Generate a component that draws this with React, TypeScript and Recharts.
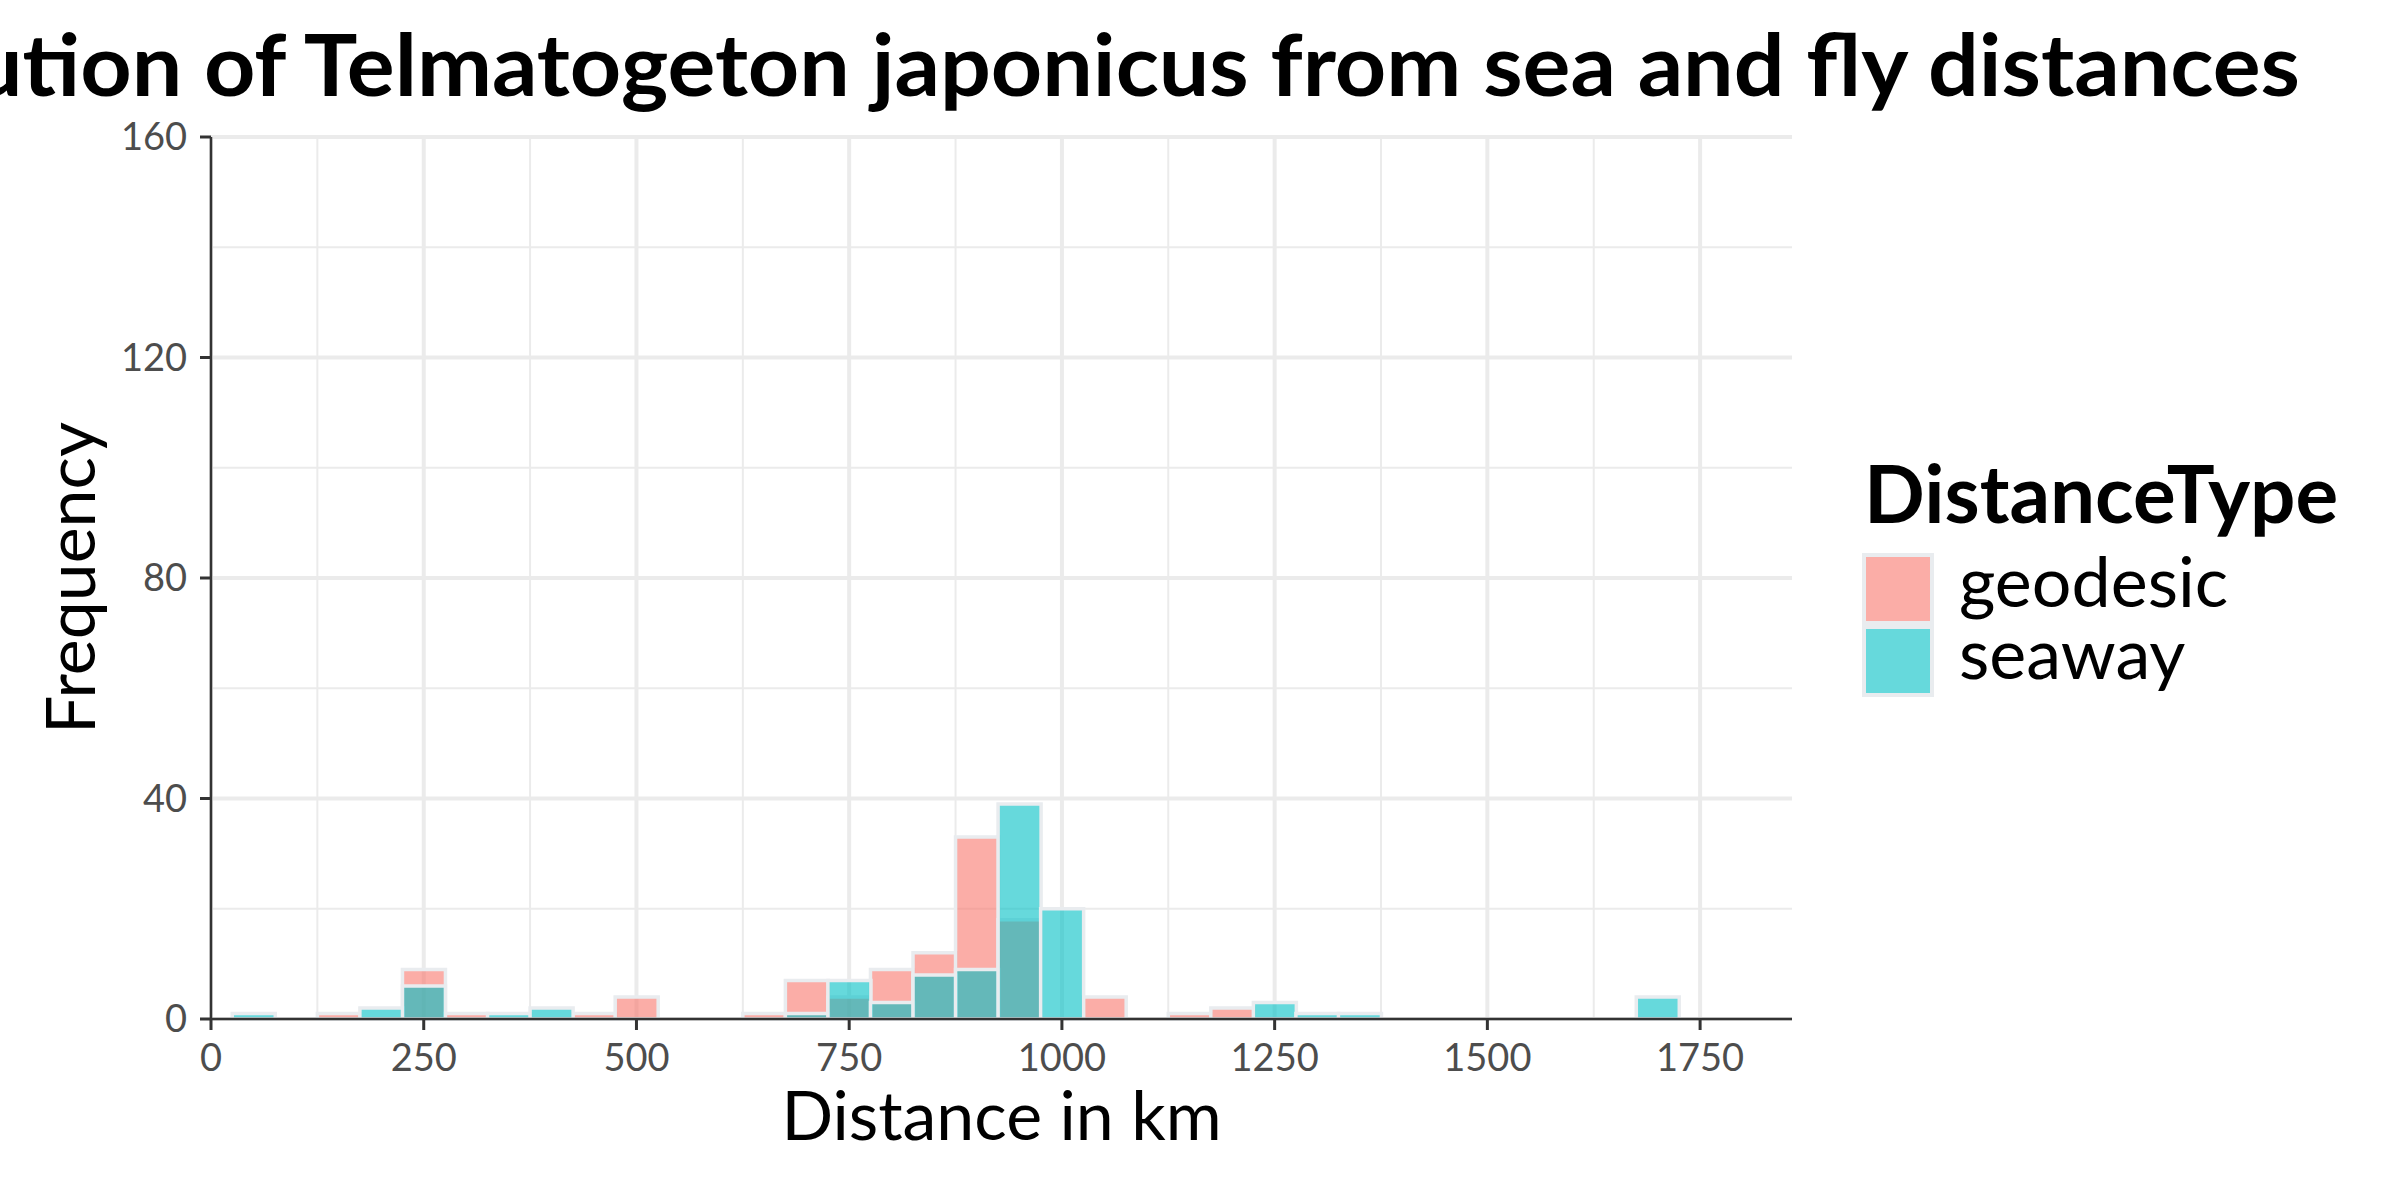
import {
  ComposedChart,
  Bar,
  XAxis,
  YAxis,
  CartesianGrid,
  Label,
} from 'recharts';

// histogram bins (km, bin centres, width 50)
const binCenters = [
  50, 100, 150, 200, 250, 300, 350, 400, 450, 500, 550, 600, 650, 700, 750, 800, 850,
  900, 950, 1000, 1050, 1100, 1150, 1200, 1250, 1300, 1350, 1400, 1450, 1500, 1550,
  1600, 1650, 1700,
];
const geodesicCounts = [
  0, 0, 1, 0, 9, 1, 0, 0, 1, 4, 0, 0, 1, 7, 4, 9, 12,
  33, 18, 0, 4, 0, 1, 2, 0, 0, 0, 0, 0, 0, 0,
  0, 0, 0,
];
const seawayCounts = [
  1, 0, 0, 2, 6, 0, 1, 2, 0, 0, 0, 0, 0, 1, 7, 3, 8,
  9, 39, 20, 0, 0, 0, 0, 3, 1, 1, 0, 0, 0, 0,
  0, 0, 4,
];

const xTicks = [0, 250, 500, 750, 1000, 1250, 1500, 1750];
const xMinor = [125, 375, 625, 875, 1125, 1375, 1625];
const yTicks = [0, 40, 80, 120, 160];
const yMinor = [20, 60, 100, 140];

const series = [
  { key: 'geodesic', name: 'geodesic', color: '#F8766D' },
  { key: 'seaway', name: 'seaway', color: '#00BFC4' },
];

const FONT = 'Lato';
const X_DOMAIN: [number, number] = [0, 1858];
const Y_DOMAIN: [number, number] = [0, 160];
const border = { stroke: '#333333', strokeWidth: 2.5 };

export default function App() {
  const data = binCenters.map((x, i) => ({
    x,
    geodesic: geodesicCounts[i],
    seaway: seawayCounts[i],
  }));

  return (
    <div style={{ position: 'absolute', left: 0, top: 0, width: 2400, height: 1200, background: '#fff', overflow: 'hidden' }}>
      <ComposedChart
        width={2400}
        height={1200}
        data={data}
        margin={{ top: 137, right: 608, bottom: 121, left: 0 }}
        barCategoryGap={0}
        barGap={0}
        style={{ fontFamily: FONT }}
      >
        <CartesianGrid xAxisId="bottom" horizontalValues={yMinor} verticalValues={xMinor} stroke="#EBEBEB" strokeWidth={2} />
        <CartesianGrid xAxisId="bottom" horizontalValues={yTicks} verticalValues={xTicks} stroke="#EBEBEB" strokeWidth={4} />
        <Bar
          xAxisId="bottom"
          dataKey="geodesic"
          fill={series[0].color}
          fillOpacity={0.6}
          stroke="#E9ECEF"
          strokeWidth={3.5}
          isAnimationActive={false}
        />
        <Bar
          xAxisId="top"
          dataKey="seaway"
          fill={series[1].color}
          fillOpacity={0.6}
          stroke="#E9ECEF"
          strokeWidth={3.5}
          isAnimationActive={false}
        />
        <XAxis
          xAxisId="bottom"
          dataKey="x"
          type="number"
          domain={X_DOMAIN}
          ticks={xTicks}
          height={60}
          tickSize={11}
          tickMargin={14}
          axisLine={border}
          tickLine={{ stroke: '#333333', strokeWidth: 3 }}
          tick={{ fill: '#4D4D4D', fontSize: 38, fontFamily: FONT }}
        >
          <Label value="Distance in km" position="bottom" offset={13} style={{ fontSize: 68, fontFamily: FONT, fill: '#000' }} />
        </XAxis>
        <XAxis
          xAxisId="top"
          orientation="top"
          dataKey="x"
          type="number"
          domain={X_DOMAIN}
          height={0}
          tick={false}
          tickLine={false}
          axisLine={border}
        />
        <YAxis
          type="number"
          domain={Y_DOMAIN}
          ticks={yTicks}
          width={211}
          tickSize={11}
          tickMargin={13}
          axisLine={border}
          tickLine={{ stroke: '#333333', strokeWidth: 3 }}
          tick={{ fill: '#4D4D4D', fontSize: 38, fontFamily: FONT }}
        >
          <Label
            value="Frequency"
            angle={-90}
            position="insideLeft"
            offset={71}
            style={{ textAnchor: 'middle', fontSize: 68, fontFamily: FONT, fill: '#000' }}
          />
        </YAxis>
        <YAxis
          yAxisId="right"
          orientation="right"
          type="number"
          domain={Y_DOMAIN}
          width={0}
          tick={false}
          tickLine={false}
          axisLine={border}
        />
      </ComposedChart>

      <svg
        width={2400}
        height={1200}
        style={{ position: 'absolute', left: 0, top: 0, pointerEvents: 'none', fontFamily: FONT }}
      >
        <text
          x={1001}
          y={96}
          textAnchor="middle"
          fontSize={87}
          fontWeight={700}
          fill="#000"
          textLength={2598}
          lengthAdjust="spacingAndGlyphs"
        >
          Distribution of Telmatogeton japonicus from sea and fly distances
        </text>
        <text x={1864} y={523} fontSize={80} fontWeight={700} fill="#000">
          DistanceType
        </text>
        {series.map((s, i) => (
          <g key={s.key}>
            <rect
              x={1864}
              y={555 + i * 72}
              width={68}
              height={68}
              fill={s.color}
              fillOpacity={0.6}
              stroke="#E9ECEF"
              strokeWidth={4}
            />
            <text x={1959} y={555 + i * 72 + 52} fontSize={70} fill="#000">
              {s.name}
            </text>
          </g>
        ))}
      </svg>
    </div>
  );
}
